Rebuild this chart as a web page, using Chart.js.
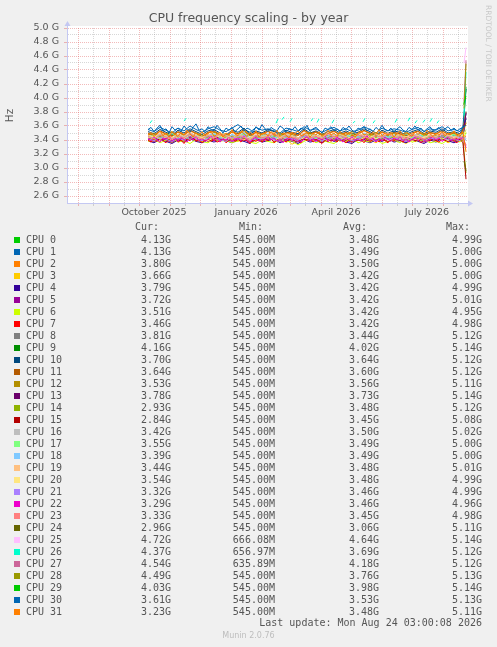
<!DOCTYPE html>
<html>
<head>
<meta charset="utf-8">
<title>CPU frequency scaling - by year</title>
<script src="https://cdn.jsdelivr.net/npm/chart.js@4.4.1/dist/chart.umd.min.js"></script>
<style>
  html, body { margin: 0; padding: 0; background: #f0f0f0; }
  #page { position: relative; width: 497px; height: 647px; overflow: hidden; color: #555; font-family: "DejaVu Sans Mono", monospace; }
  #graph { position: absolute; left: 0; top: 0; width: 497px; height: 225px; }
  .row { position: absolute; left: 0; width: 497px; height: 12px; font-size: 10px; line-height: 12px; white-space: pre; }
  .row span { position: absolute; top: 0; }
  .row .sw { left: 14px; top: 3px; width: 6px; height: 6px; }
  #rrd { position: absolute; left: 484px; top: 5px; writing-mode: vertical-rl; font: 7.5px "DejaVu Sans", sans-serif; color: #c8c8c8; white-space: nowrap; }
  #munin { position: absolute; left: 0; top: 631px; width: 497px; text-align: center; font: 8px "DejaVu Sans", sans-serif; color: #bdbdbd; }
</style>
</head>
<body>
<div id="page">
  <div id="graph"><canvas id="chart" width="497" height="225"></canvas></div>
  <div id="rrd">RRDTOOL / TOBI OETIKER</div>
  <div id="legend"></div>
  <div id="munin">Munin 2.0.76</div>
</div>
<script>
// day 0 = 21 Jul 2025, day 399 = 24 Aug 2026
const days = [
  81,87,93,99,105,111,117,123,129,135,141,
  147,153,159,165,171,177,183,189,195,201,207,
  213,219,225,231,237,243,249,255,261,267,273,
  279,285,291,297,303,309,315,321,327,333,339,
  345,351,357,363,369,375,381,387,393,396,399];
// the lines drawn on top are read at a finer step
const denseDays = [
  81,84,87,90,93,96,99,102,105,108,
  111,114,117,120,123,126,129,132,135,138,
  141,144,147,150,153,156,159,162,165,168,
  171,174,177,180,183,186,189,192,195,198,
  201,204,207,210,213,216,219,222,225,228,
  231,234,237,240,243,246,249,252,255,258,
  261,264,267,270,273,276,279,282,285,288,
  291,294,297,300,303,306,309,312,315,318,
  321,324,327,330,333,336,339,342,345,348,
  351,354,357,360,363,366,369,372,375,378,
  381,384,387,390,393,396,399];
const endDays = [397, 399];

const monthStartDays = [11,42,72,103,133,164,195,223,254,284,315,345,376];
const midMonthDays = [26,57,87,118,148,179,210,238,269,299,330,360,391];
const xLabelDays = [87,179,269,360];
const xLabels = ['October 2025','January 2026','April 2026','July 2026'];
const yTicks = [2.5,2.6,2.7,2.8,2.9,3.0,3.1,3.2,3.3,3.4,3.5,3.6,3.7,3.8,3.9,4.0,4.1,4.2,4.3,4.4,4.5,4.6,4.7,4.8,4.9,5.0];

// values in GHz
const cpu0 = [
  3.45,3.42,3.47,3.44,3.41,3.46,3.43,3.48,3.44,3.42,3.45,
  3.47,3.43,3.41,3.46,3.44,3.49,3.42,3.45,3.43,3.47,3.44,
  3.41,3.46,3.45,3.42,3.48,3.43,3.46,3.44,3.41,3.45,3.47,
  3.43,3.46,3.42,3.44,3.48,3.45,3.41,3.46,3.43,3.47,3.44,
  3.42,3.45,3.48,3.43,3.46,3.44,3.42,3.47,3.45,3.52,4.13];
const cpu1 = [
  3.55,3.52,3.58,3.54,3.50,3.57,3.53,3.60,3.55,3.51,3.56,
  3.59,3.54,3.52,3.57,3.62,3.55,3.51,3.58,3.54,3.56,3.53,
  3.50,3.57,3.55,3.52,3.59,3.54,3.56,3.51,3.55,3.58,3.53,
  3.56,3.52,3.54,3.59,3.55,3.50,3.57,3.53,3.56,3.54,3.51,
  3.55,3.58,3.52,3.56,3.54,3.59,3.53,3.55,3.52,3.60,4.13];
const cpu2 = [
  3.49,3.46,3.52,3.48,3.45,3.51,3.47,3.53,3.49,3.44,3.50,
  3.52,3.47,3.45,3.51,3.48,3.54,3.46,3.50,3.48,3.52,3.47,
  3.45,3.50,3.49,3.46,3.53,3.48,3.51,3.46,3.49,3.52,3.47,
  3.50,3.46,3.48,3.53,3.49,3.45,3.51,3.47,3.50,3.48,3.45,
  3.49,3.52,3.46,3.50,3.48,3.53,3.47,3.49,3.46,3.55,3.80];
const cpu3 = [
  3.40,3.37,3.42,3.39,3.36,3.41,3.38,3.43,3.40,3.36,3.41,
  3.39,3.44,3.37,3.40,3.38,3.42,3.36,3.40,3.38,3.43,3.39,
  3.37,3.41,3.34,3.38,3.42,3.39,3.41,3.36,3.40,3.43,3.38,
  3.41,3.37,3.39,3.44,3.40,3.36,3.42,3.38,3.41,3.39,3.35,
  3.40,3.43,3.37,3.41,3.39,3.42,3.36,3.40,3.38,3.45,3.66];
const cpu4 = [
  3.39,3.36,3.41,3.38,3.35,3.40,3.37,3.42,3.38,3.36,3.40,
  3.37,3.41,3.39,3.36,3.40,3.38,3.35,3.41,3.37,3.39,3.42,
  3.36,3.40,3.38,3.35,3.41,3.37,3.39,3.36,3.42,3.38,3.40,
  3.37,3.35,3.41,3.39,3.36,3.40,3.38,3.42,3.37,3.39,3.36,
  3.41,3.38,3.35,3.40,3.37,3.42,3.39,3.36,3.40,3.44,3.79];
const cpu5 = [
  3.41,3.38,3.43,3.40,3.37,3.42,3.39,3.44,3.40,3.38,3.42,
  3.39,3.43,3.41,3.38,3.42,3.40,3.37,3.43,3.39,3.41,3.44,
  3.38,3.42,3.40,3.37,3.43,3.39,3.41,3.38,3.44,3.40,3.42,
  3.39,3.37,3.43,3.41,3.38,3.42,3.40,3.44,3.39,3.41,3.38,
  3.43,3.40,3.37,3.42,3.39,3.44,3.41,3.38,3.42,3.46,3.72];
const cpu6 = [
  3.38,3.41,3.36,3.40,3.43,3.37,3.39,3.35,3.41,3.38,3.36,
  3.42,3.38,3.40,3.36,3.39,3.43,3.37,3.35,3.40,3.38,3.36,
  3.41,3.37,3.39,3.33,3.38,3.42,3.36,3.40,3.37,3.35,3.41,
  3.38,3.43,3.36,3.39,3.37,3.42,3.35,3.38,3.40,3.36,3.43,
  3.37,3.39,3.41,3.36,3.38,3.35,3.40,3.42,3.37,3.41,3.51];
const cpu7 = [
  3.40,3.37,3.42,3.38,3.44,3.39,3.36,3.41,3.38,3.43,
  3.37,3.40,3.35,3.42,3.39,3.44,3.38,3.41,3.36,3.40,
  3.43,3.38,3.41,3.37,3.39,3.42,3.36,3.40,3.44,3.38,
  3.41,3.37,3.43,3.39,3.35,3.40,3.38,3.42,3.37,3.41,
  3.39,3.44,3.36,3.40,3.38,3.42,3.37,3.41,3.43,3.38,
  3.40,3.36,3.42,3.39,3.44,3.37,3.41,3.38,3.35,3.40,
  3.42,3.38,3.41,3.37,3.43,3.39,3.36,3.40,3.38,3.44,
  3.39,3.41,3.36,3.42,3.38,3.40,3.43,3.37,3.41,3.39,
  3.36,3.42,3.38,3.44,3.40,3.37,3.41,3.39,3.43,3.38,
  3.41,3.36,3.40,3.42,3.38,3.44,3.39,3.37,3.41,3.40,
  3.38,3.42,3.39,3.36,3.41,3.42,3.46];
const cpu8 = [
  3.44,3.47,3.42,3.45,3.49,3.43,3.46,3.41,3.45,3.48,3.43,
  3.46,3.42,3.47,3.44,3.41,3.45,3.48,3.43,3.46,3.44,3.42,
  3.47,3.45,3.43,3.49,3.44,3.41,3.46,3.43,3.47,3.45,3.42,
  3.46,3.44,3.48,3.43,3.45,3.41,3.47,3.44,3.46,3.42,3.45,
  3.48,3.43,3.46,3.44,3.41,3.47,3.45,3.43,3.46,3.50,3.81];
const cpu9 = [3.90, 4.16];
const cpu10 = [
  3.52,3.49,3.55,3.51,3.47,3.54,3.50,3.56,3.52,3.48,3.53,
  3.55,3.50,3.47,3.54,3.51,3.57,3.49,3.53,3.50,3.55,3.52,
  3.48,3.54,3.51,3.49,3.56,3.50,3.53,3.48,3.52,3.55,3.50,
  3.53,3.49,3.51,3.56,3.52,3.47,3.54,3.50,3.53,3.51,3.48,
  3.52,3.55,3.49,3.53,3.51,3.56,3.50,3.52,3.49,3.57,3.70];
const cpu11 = [
  3.50,3.47,3.53,3.49,3.46,3.52,3.48,3.54,3.50,3.45,3.51,
  3.53,3.48,3.46,3.52,3.49,3.55,3.47,3.51,3.49,3.53,3.48,
  3.46,3.51,3.50,3.47,3.54,3.49,3.52,3.47,3.50,3.53,3.48,
  3.51,3.47,3.49,3.54,3.50,3.46,3.52,3.48,3.51,3.49,3.46,
  3.50,3.53,3.47,3.51,3.49,3.54,3.48,3.50,3.47,3.55,3.64];
const cpu12 = [
  3.47,3.50,3.45,3.49,3.52,3.46,3.48,3.44,3.50,3.47,3.45,
  3.51,3.47,3.49,3.45,3.48,3.52,3.46,3.44,3.49,3.47,3.45,
  3.50,3.46,3.48,3.43,3.47,3.51,3.45,3.49,3.46,3.44,3.50,
  3.47,3.52,3.45,3.48,3.46,3.51,3.44,3.47,3.49,3.45,3.52,
  3.46,3.48,3.50,3.45,3.47,3.44,3.49,3.51,3.46,3.50,3.53];
const cpu13 = [3.60, 3.78];
const cpu14 = [
  3.43,3.40,3.45,3.42,3.39,3.44,3.41,3.46,3.42,3.40,3.44,
  3.41,3.45,3.43,3.40,3.44,3.42,3.39,3.45,3.41,3.43,3.46,
  3.40,3.44,3.42,3.39,3.45,3.41,3.43,3.40,3.46,3.42,3.44,
  3.41,3.39,3.45,3.43,3.40,3.44,3.42,3.46,3.41,3.43,3.40,
  3.45,3.42,3.39,3.44,3.41,3.46,3.43,3.40,3.44,3.38,2.93];
const cpu15 = [
  3.42,3.45,3.40,3.43,3.39,3.44,3.41,3.46,3.40,3.43,3.38,
  3.42,3.45,3.40,3.43,3.41,3.39,3.44,3.42,3.40,3.45,3.38,
  3.43,3.41,3.44,3.39,3.42,3.40,3.45,3.41,3.38,3.43,3.42,
  3.40,3.44,3.39,3.42,3.45,3.41,3.43,3.38,3.42,3.40,3.44,
  3.41,3.39,3.43,3.45,3.40,3.42,3.38,3.43,3.41,3.36,2.84];
const cpu16 = [
  3.45,3.42,3.48,3.44,3.41,3.47,3.43,3.49,3.45,3.41,3.46,
  3.48,3.43,3.41,3.47,3.44,3.50,3.42,3.46,3.44,3.48,3.43,
  3.41,3.46,3.45,3.42,3.49,3.44,3.47,3.42,3.45,3.48,3.43,
  3.46,3.42,3.44,3.49,3.45,3.41,3.47,3.43,3.46,3.44,3.41,
  3.45,3.48,3.42,3.46,3.44,3.49,3.43,3.45,3.42,3.47,3.42];
const cpu17 = [
  3.44,3.47,3.42,3.46,3.49,3.43,3.45,3.41,3.47,3.44,3.42,
  3.48,3.44,3.46,3.42,3.45,3.49,3.43,3.41,3.46,3.44,3.42,
  3.47,3.43,3.45,3.40,3.44,3.48,3.42,3.46,3.43,3.41,3.47,
  3.44,3.49,3.42,3.45,3.43,3.48,3.41,3.44,3.46,3.42,3.49,
  3.43,3.45,3.47,3.42,3.44,3.41,3.46,3.48,3.43,3.47,3.55];
const cpu18 = [
  3.46,3.43,3.49,3.45,3.42,3.48,3.44,3.50,3.46,3.42,3.47,
  3.49,3.44,3.42,3.48,3.45,3.51,3.43,3.47,3.45,3.49,3.44,
  3.42,3.47,3.46,3.43,3.50,3.45,3.48,3.43,3.46,3.49,3.44,
  3.47,3.43,3.45,3.50,3.46,3.42,3.48,3.44,3.47,3.45,3.42,
  3.46,3.49,3.43,3.47,3.45,3.50,3.44,3.46,3.43,3.48,3.39];
const cpu19 = [
  3.47,3.44,3.49,3.46,3.43,3.48,3.45,3.51,3.46,3.44,3.48,
  3.45,3.50,3.47,3.43,3.48,3.46,3.42,3.49,3.45,3.47,3.51,
  3.44,3.48,3.46,3.43,3.50,3.45,3.47,3.44,3.51,3.46,3.48,
  3.45,3.42,3.49,3.47,3.44,3.48,3.46,3.51,3.45,3.47,3.44,
  3.49,3.46,3.43,3.48,3.45,3.51,3.47,3.44,3.48,3.46,3.44];
const cpu20 = [
  3.43,3.46,3.41,3.44,3.40,3.45,3.42,3.47,3.41,3.44,3.39,
  3.43,3.46,3.41,3.44,3.42,3.40,3.45,3.43,3.41,3.46,3.39,
  3.44,3.42,3.45,3.40,3.43,3.41,3.46,3.42,3.39,3.44,3.43,
  3.41,3.45,3.40,3.43,3.46,3.42,3.44,3.39,3.43,3.41,3.45,
  3.42,3.40,3.44,3.46,3.41,3.43,3.39,3.44,3.42,3.47,3.54];
const cpu21 = [
  3.42,3.39,3.44,3.41,3.38,3.43,3.40,3.46,3.42,3.39,3.43,
  3.45,3.40,3.38,3.44,3.41,3.47,3.39,3.43,3.41,3.45,3.40,
  3.38,3.43,3.42,3.39,3.46,3.41,3.44,3.39,3.42,3.45,3.40,
  3.43,3.39,3.41,3.46,3.42,3.38,3.44,3.40,3.43,3.41,3.38,
  3.42,3.45,3.39,3.43,3.41,3.46,3.40,3.42,3.39,3.44,3.32];
const cpu22 = [
  3.42,3.39,3.44,3.40,3.37,3.43,3.41,3.46,3.39,3.42,
  3.38,3.44,3.41,3.37,3.43,3.40,3.45,3.39,3.42,3.38,
  3.41,3.46,3.39,3.43,3.37,3.42,3.40,3.44,3.38,3.41,
  3.43,3.39,3.45,3.40,3.37,3.42,3.44,3.38,3.41,3.39,
  3.46,3.40,3.43,3.38,3.42,3.36,3.41,3.44,3.39,3.43,
  3.40,3.37,3.42,3.45,3.39,3.41,3.38,3.43,3.40,3.46,
  3.38,3.42,3.39,3.44,3.41,3.37,3.43,3.40,3.45,3.39,
  3.42,3.38,3.41,3.46,3.40,3.43,3.37,3.42,3.39,3.44,
  3.41,3.38,3.43,3.40,3.45,3.39,3.42,3.37,3.41,3.44,
  3.39,3.43,3.40,3.38,3.42,3.45,3.40,3.43,3.38,3.41,
  3.44,3.39,3.42,3.40,3.43,3.42,3.29];
const cpu23 = [
  3.45,3.42,3.47,3.44,3.41,3.46,3.43,3.49,3.44,3.42,3.46,
  3.43,3.48,3.45,3.41,3.46,3.44,3.40,3.47,3.43,3.45,3.49,
  3.42,3.46,3.44,3.41,3.48,3.43,3.45,3.42,3.49,3.44,3.46,
  3.43,3.40,3.47,3.45,3.42,3.46,3.44,3.49,3.43,3.45,3.42,
  3.47,3.44,3.41,3.46,3.43,3.49,3.45,3.42,3.46,3.41,3.33];
const cpu24 = [3.10, 2.96];
const cpu25 = [4.50, 4.72];
// CPU 26 only reports now and then: short dashes above the band
const cpu26Days = [
  83,85,86, 117,119,120, 209,211,212, 215,217,218, 223,225,226, 244,246,247,
  250,252,253, 265,267,268, 286,288,289, 296,298,299, 306,308,309, 328,330,331,
  341,343,344, 348,350,351, 356,358,359, 363,365,366, 370,372,373, 397,399];
const cpu26 = [
  3.64,3.68,null, 3.67,3.71,null, 3.64,3.70,null, 3.69,3.73,null, 3.66,3.71,null, 3.67,3.71,null,
  3.65,3.70,null, 3.64,3.69,null, 3.64,3.67,null, 3.66,3.71,null, 3.64,3.68,null, 3.65,3.70,null,
  3.67,3.72,null, 3.64,3.68,null, 3.65,3.69,null, 3.66,3.71,null, 3.64,3.68,null, 3.75,4.37];
const cpu27 = [3.95, 4.54];
const cpu28 = [3.85, 4.49];
const cpu29 = [3.92, 4.03];
const cpu30 = [
  3.55,3.58,3.52,3.57,3.61,3.53,3.56,3.50,3.59,3.54,
  3.57,3.52,3.60,3.55,3.51,3.58,3.63,3.54,3.56,3.52,
  3.59,3.55,3.53,3.61,3.56,3.50,3.57,3.54,3.58,3.52,
  3.56,3.60,3.53,3.57,3.55,3.51,3.59,3.54,3.62,3.56,
  3.52,3.58,3.55,3.53,3.60,3.57,3.51,3.56,3.54,3.59,
  3.53,3.57,3.55,3.61,3.52,3.56,3.58,3.54,3.50,3.57,
  3.55,3.59,3.53,3.56,3.52,3.58,3.55,3.60,3.54,3.51,
  3.57,3.55,3.59,3.53,3.56,3.52,3.58,3.54,3.61,3.55,
  3.53,3.57,3.51,3.56,3.59,3.54,3.52,3.58,3.55,3.60,
  3.54,3.57,3.52,3.56,3.59,3.53,3.55,3.58,3.52,3.56,
  3.59,3.54,3.57,3.53,3.56,3.58,3.61];
const cpu31 = [
  3.47,3.51,3.45,3.49,3.53,3.46,3.50,3.44,3.52,3.48,
  3.45,3.51,3.47,3.54,3.49,3.44,3.50,3.47,3.52,3.46,
  3.49,3.53,3.45,3.48,3.51,3.44,3.50,3.47,3.55,3.48,
  3.46,3.52,3.49,3.45,3.51,3.47,3.53,3.44,3.49,3.50,
  3.46,3.52,3.48,3.54,3.45,3.50,3.47,3.43,3.51,3.49,
  3.53,3.46,3.48,3.51,3.44,3.50,3.47,3.52,3.45,3.49,
  3.54,3.47,3.50,3.45,3.52,3.48,3.46,3.51,3.49,3.44,
  3.50,3.53,3.47,3.49,3.45,3.52,3.48,3.55,3.46,3.50,
  3.47,3.51,3.44,3.49,3.53,3.46,3.50,3.48,3.45,3.52,
  3.48,3.51,3.46,3.54,3.49,3.45,3.50,3.47,3.52,3.46,
  3.50,3.48,3.53,3.46,3.49,3.51,3.23];

const lineVals = [cpu0,cpu1,cpu2,cpu3,cpu4,cpu5,cpu6,cpu7,cpu8,cpu9,cpu10,cpu11,cpu12,cpu13,cpu14,cpu15,
  cpu16,cpu17,cpu18,cpu19,cpu20,cpu21,cpu22,cpu23,cpu24,cpu25,cpu26,cpu27,cpu28,cpu29,cpu30,cpu31];
const lineDays = [days,days,days,days,days,days,days,denseDays,days,endDays,days,days,days,endDays,days,days,
  days,days,days,days,days,days,denseDays,days,endDays,endDays,cpu26Days,endDays,endDays,endDays,denseDays,denseDays];

const colors = ['#00CC00','#0066B3','#FF8000','#FFCC00','#330099','#990099','#CCFF00','#FF0000',
  '#808080','#008F00','#00487D','#B35A00','#B38F00','#6B006B','#8FB300','#B30000',
  '#BEBEBE','#80FF80','#80C9FF','#FFC080','#FFE680','#AA80FF','#EE00CC','#FF8080',
  '#666600','#FFBFFF','#00FFCC','#CC6699','#999900','#00CC00','#0066B3','#FF8000'];

// legend statistics
const curG = [4.13,4.13,3.80,3.66,3.79,3.72,3.51,3.46,3.81,4.16,3.70,3.64,3.53,3.78,2.93,2.84,
  3.42,3.55,3.39,3.44,3.54,3.32,3.29,3.33,2.96,4.72,4.37,4.54,4.49,4.03,3.61,3.23];
const minM = [545.00,545.00,545.00,545.00,545.00,545.00,545.00,545.00,545.00,545.00,545.00,545.00,545.00,545.00,545.00,545.00,
  545.00,545.00,545.00,545.00,545.00,545.00,545.00,545.00,545.00,666.08,656.97,635.89,545.00,545.00,545.00,545.00];
const avgG = [3.48,3.49,3.50,3.42,3.42,3.42,3.42,3.42,3.44,4.02,3.64,3.60,3.56,3.73,3.48,3.45,
  3.50,3.49,3.49,3.48,3.48,3.46,3.46,3.45,3.06,4.64,3.69,4.18,3.76,3.98,3.53,3.48];
const maxG = [4.99,5.00,5.00,5.00,4.99,5.01,4.95,4.98,5.12,5.14,5.12,5.12,5.11,5.14,5.12,5.08,
  5.02,5.00,5.00,5.01,4.99,4.99,4.96,4.98,5.11,5.14,5.12,5.12,5.13,5.14,5.13,5.11];

const RED = 'rgba(225,90,90,0.42)';
const GRAY = 'rgba(140,140,140,0.35)';
const AXIS = '#c4c8f2';
const TXT = '#555';

Chart.defaults.font.family = '"DejaVu Sans", sans-serif';

const isMajorY = v => { const t = Math.round(v * 10); return t > 25 && t % 2 === 0; };

const frame = {
  id: 'frame',
  beforeDraw(chart) {
    const a = chart.chartArea, c = chart.ctx;
    c.save();
    c.fillStyle = '#ffffff';
    c.fillRect(a.left, a.top - 2, a.right - a.left + 1, a.bottom - a.top + 2);
    c.restore();
  },
  afterDraw(chart) {
    const a = chart.chartArea, c = chart.ctx;
    const x0 = Math.round(a.left) + 0.5, y0 = Math.round(a.bottom) + 0.5;
    c.save();
    c.strokeStyle = AXIS; c.fillStyle = AXIS; c.lineWidth = 1;
    c.beginPath();
    c.moveTo(x0, a.top); c.lineTo(x0, a.top - 3);
    c.moveTo(a.right, y0); c.lineTo(a.right + 2, y0);
    c.stroke();
    c.beginPath();
    c.moveTo(x0, a.top - 7); c.lineTo(x0 - 3, a.top - 2); c.lineTo(x0 + 3, a.top - 2); c.closePath(); c.fill();
    c.beginPath();
    c.moveTo(a.right + 6, y0); c.lineTo(a.right + 1, y0 - 3); c.lineTo(a.right + 1, y0 + 3); c.closePath(); c.fill();
    c.restore();
  }
};

new Chart(document.getElementById('chart'), {
  type: 'line',
  data: {
    datasets: lineVals.map((vals, i) => ({
      label: 'CPU ' + i,
      data: vals.map((v, k) => ({ x: lineDays[i][k], y: v })),
      borderColor: colors[i],
      borderWidth: 1,
      pointRadius: 0,
      tension: 0,
      fill: false,
      spanGaps: false,
      order: 31 - i
    }))
  },
  options: {
    responsive: false,
    animation: false,
    events: [],
    layout: { padding: 0 },
    plugins: {
      legend: { display: false },
      tooltip: { enabled: false },
      title: {
        display: true,
        text: 'CPU frequency scaling - by year',
        color: TXT,
        font: { size: 12.5, weight: 'normal' },
        padding: { top: 11, bottom: 2 }
      }
    },
    scales: {
      x: {
        type: 'linear', min: 0, max: 400,
        afterBuildTicks: s => { s.ticks = monthStartDays.concat(midMonthDays).sort((a, b) => a - b).map(v => ({ value: v })); },
        afterFit: s => { s.height = 22; },
        ticks: {
          autoSkip: false, maxRotation: 0, color: TXT, font: { size: 9.5 }, padding: 1,
          callback: v => { const k = xLabelDays.indexOf(v); return k >= 0 ? xLabels[k] : ''; }
        },
        grid: {
          color: c => monthStartDays.includes(c.tick.value) ? RED : GRAY,
          tickColor: c => monthStartDays.includes(c.tick.value) ? RED : GRAY,
          tickLength: 3, lineWidth: 1
        },
        border: { color: AXIS, dash: [1, 1] }
      },
      y: {
        type: 'linear', min: 2.5, max: 5.0,
        afterBuildTicks: s => { s.ticks = yTicks.map(v => ({ value: v })); },
        afterFit: s => { s.width = 67; },
        ticks: {
          autoSkip: false, color: TXT, font: { size: 9.5 }, padding: 5,
          callback: v => isMajorY(v) ? v.toFixed(1) + ' G' : ''
        },
        grid: {
          color: c => isMajorY(c.tick.value) ? RED : GRAY,
          tickColor: c => isMajorY(c.tick.value) ? RED : 'rgba(0,0,0,0)',
          tickLength: 3, lineWidth: 1
        },
        border: { color: AXIS, dash: [1, 1] },
        title: { display: true, text: 'Hz', color: TXT, font: { size: 10.5 }, padding: { top: 4, bottom: 0 } }
      },
      yr: {
        type: 'linear', axis: 'y', position: 'right', display: true,
        afterFit: s => { s.width = 30; },
        ticks: { display: false },
        grid: { display: false, drawTicks: false },
        border: { display: false }
      }
    }
  },
  plugins: [frame]
});

// legend table below the graph
const legend = document.getElementById('legend');
function addRow(top, cells) {
  const row = document.createElement('div');
  row.className = 'row';
  row.style.top = top + 'px';
  cells.forEach(c => {
    const s = document.createElement('span');
    if (c.cls) s.className = c.cls;
    if (c.bg) s.style.background = c.bg;
    if (c.text !== undefined) s.textContent = c.text;
    if (c.left !== undefined) s.style.left = c.left + 'px';
    if (c.right !== undefined) s.style.right = (497 - c.right) + 'px';
    row.appendChild(s);
  });
  legend.appendChild(row);
}
addRow(221, [
  { text: 'Cur:', right: 159 }, { text: 'Min:', right: 263 },
  { text: 'Avg:', right: 367 }, { text: 'Max:', right: 470 }
]);
lineVals.forEach((_, i) => {
  addRow(234 + 12 * i, [
    { cls: 'sw', bg: colors[i] },
    { text: 'CPU ' + i, left: 26 },
    { text: curG[i].toFixed(2) + 'G', right: 171 },
    { text: minM[i].toFixed(2) + 'M', right: 275 },
    { text: avgG[i].toFixed(2) + 'G', right: 379 },
    { text: maxG[i].toFixed(2) + 'G', right: 482 }
  ]);
});
addRow(617, [{ text: 'Last update: Mon Aug 24 03:00:08 2026', right: 482 }]);
</script>
</body>
</html>
